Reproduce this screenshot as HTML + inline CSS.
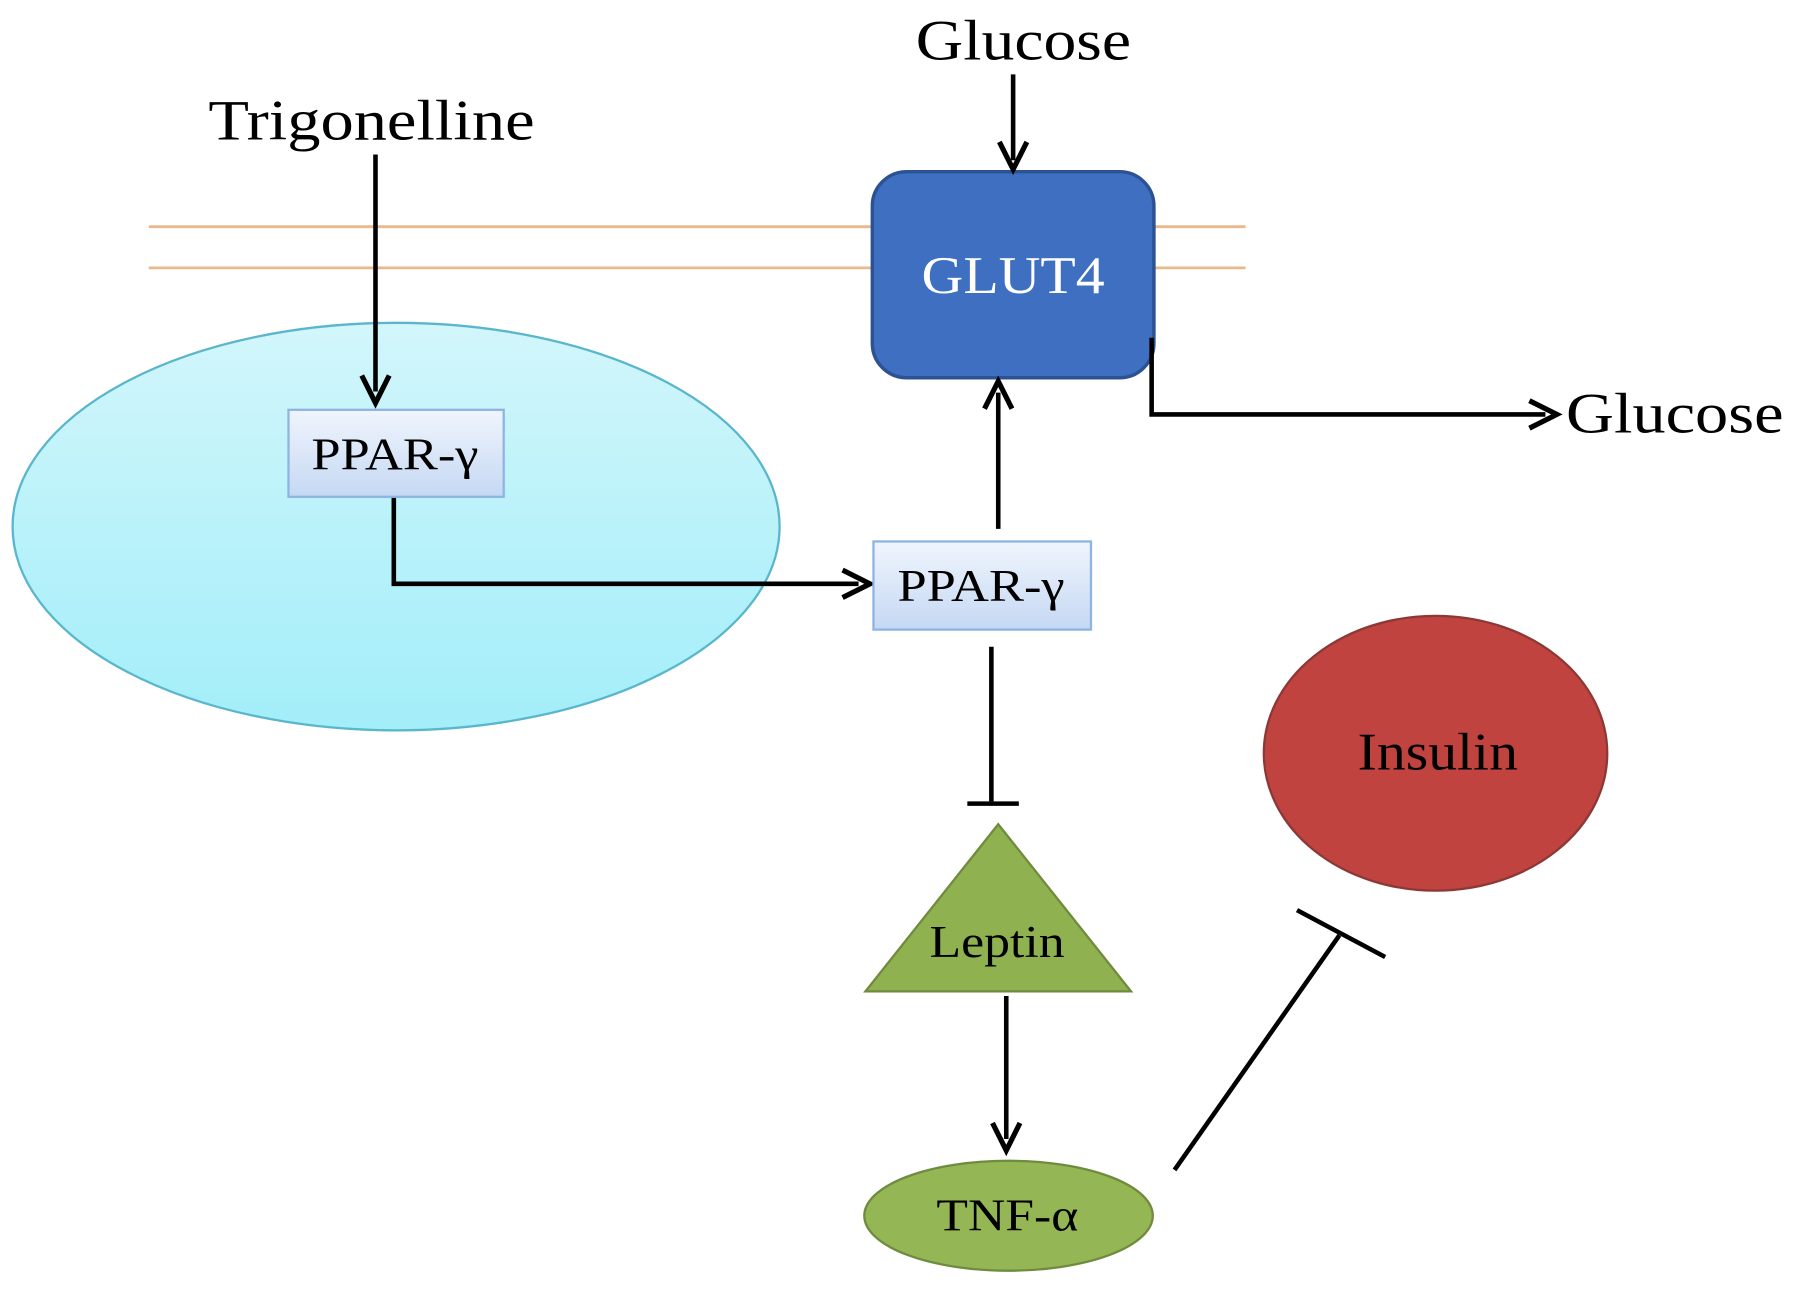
<!DOCTYPE html>
<html><head><meta charset="utf-8"><style>html,body{margin:0;padding:0;background:#fff}svg{display:block}</style></head>
<body>
<svg width="1795" height="1289" viewBox="0 0 1568 1126" xmlns="http://www.w3.org/2000/svg" font-family="'Liberation Serif', serif">
<defs>
<linearGradient id="cy" x1="0" y1="0" x2="0" y2="1"><stop offset="0" stop-color="#d2f6fb"/><stop offset="1" stop-color="#a2eef9"/></linearGradient>
<linearGradient id="pb" x1="0" y1="0" x2="0" y2="1"><stop offset="0" stop-color="#f0f5fd"/><stop offset="1" stop-color="#c5d8f3"/></linearGradient>
</defs>
<g stroke="#e9b98b" stroke-width="2.5"><line x1="130" y1="198" x2="1088" y2="198"/><line x1="130" y1="234" x2="1088" y2="234"/></g>
<ellipse cx="346" cy="460" rx="335" ry="178" fill="url(#cy)" stroke="#5ab6cc" stroke-width="2"/>
<rect x="762" y="150" width="246" height="180" rx="30" fill="#3e6fc0" stroke="#2c5293" stroke-width="3"/>
<text x="805" y="256" font-size="46" fill="#fff" textLength="160" lengthAdjust="spacingAndGlyphs">GLUT4</text>
<text x="800" y="52" font-size="50" textLength="188" lengthAdjust="spacingAndGlyphs">Glucose</text>
<text x="182" y="122" font-size="50" textLength="285" lengthAdjust="spacingAndGlyphs">Trigonelline</text>
<text x="1368" y="378" font-size="50" textLength="190" lengthAdjust="spacingAndGlyphs">Glucose</text>
<g stroke="#000" stroke-width="4" fill="none">
<line x1="885" y1="65" x2="885" y2="140"/>
<line x1="328" y1="135" x2="328" y2="342"/>
<polyline points="344,434 344,510 750,510"/>
<line x1="872" y1="462" x2="872" y2="343"/>
<polyline points="1006,295 1006,362 1350,362"/>
<line x1="866" y1="565" x2="866" y2="700"/>
<line x1="845" y1="702" x2="890" y2="702"/>
<line x1="879" y1="870" x2="879" y2="995"/>
<line x1="1026" y1="1022" x2="1170" y2="817"/>
<line x1="1133" y1="795" x2="1210" y2="836"/>
</g>
<g fill="none" stroke="#000" stroke-width="4.5" stroke-linejoin="miter">
<polyline points="873,124 885,148 897,124"/>
<polyline points="316,328 328,352 340,328"/>
<polyline points="736,498 760,510 736,522"/>
<polyline points="860,357 872,333 884,357"/>
<polyline points="1336,350 1360,362 1336,374"/>
<polyline points="867,981 879,1005 891,981"/>
</g>
<rect x="252" y="358" width="188" height="76" fill="url(#pb)" stroke="#8eb4e3" stroke-width="2"/>
<text x="272" y="410" font-size="40" textLength="146" lengthAdjust="spacingAndGlyphs">PPAR-γ</text>
<rect x="763" y="473" width="190" height="77" fill="url(#pb)" stroke="#8eb4e3" stroke-width="2"/>
<text x="784" y="525" font-size="40" textLength="146" lengthAdjust="spacingAndGlyphs">PPAR-γ</text>
<polygon points="872,720 756,866 988,866" fill="#8fb150" stroke="#6f8b3d" stroke-width="2"/>
<text x="812" y="836" font-size="40" textLength="118" lengthAdjust="spacingAndGlyphs">Leptin</text>
<ellipse cx="881" cy="1062" rx="126" ry="48" fill="#94b654" stroke="#6f8b3d" stroke-width="2"/>
<text x="818" y="1075" font-size="40" textLength="124" lengthAdjust="spacingAndGlyphs">TNF-α</text>
<ellipse cx="1254" cy="658" rx="150" ry="120" fill="#c0433f" stroke="#8c3836" stroke-width="2"/>
<text x="1186" y="672" font-size="46" textLength="140" lengthAdjust="spacingAndGlyphs">Insulin</text>
</svg>
</body></html>
